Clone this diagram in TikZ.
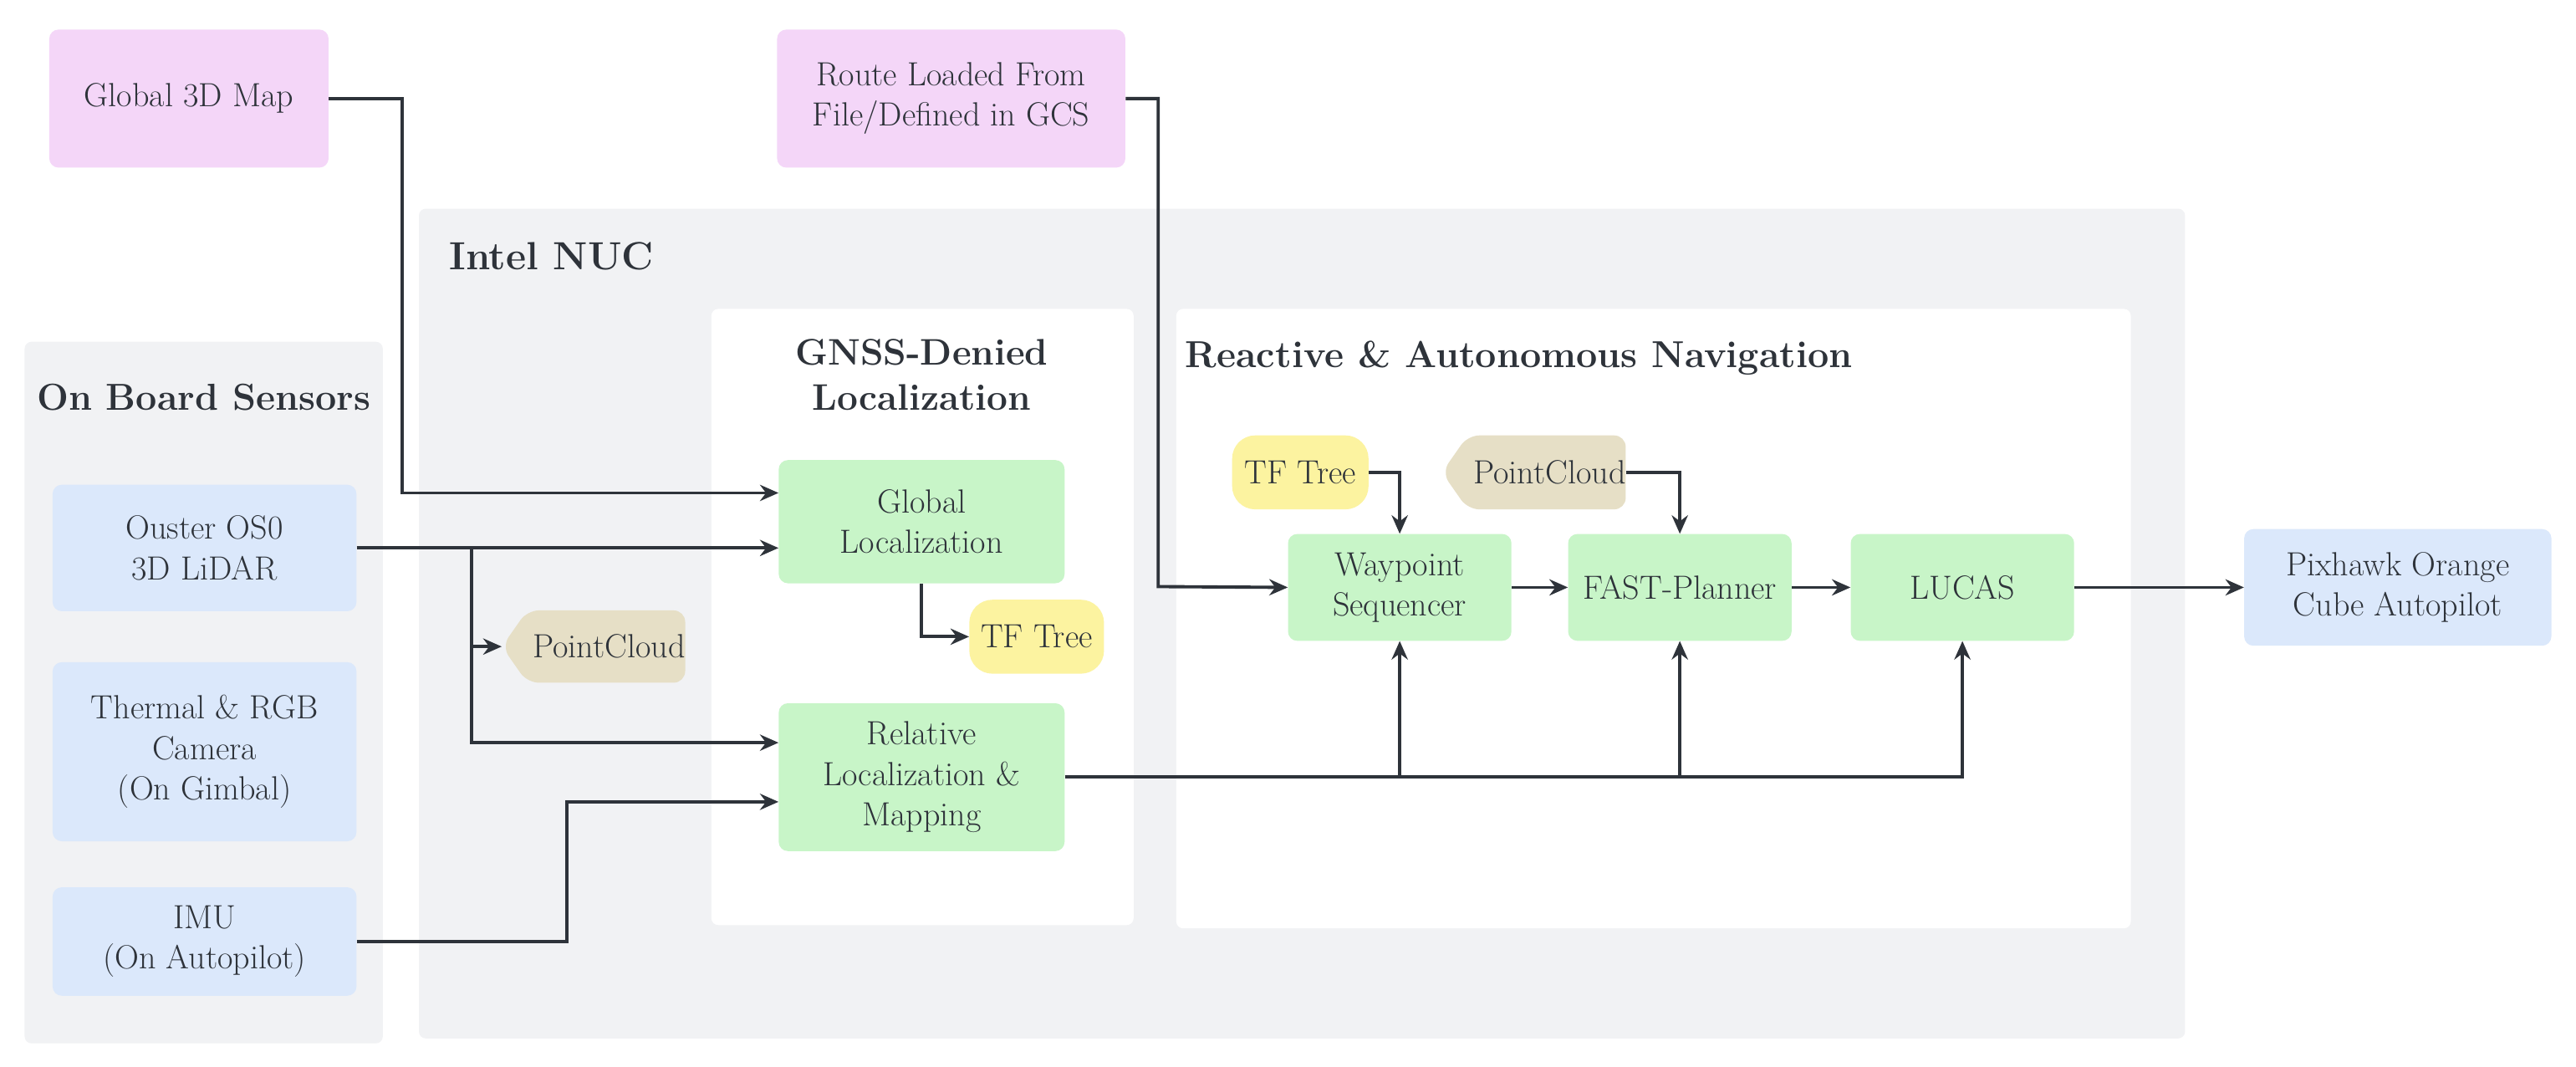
\documentclass[tikz,border=0pt]{standalone}
\usetikzlibrary{arrows.meta,shapes.symbols}
\definecolor{pinkb}{HTML}{F4D6F8}
\definecolor{blueb}{HTML}{DBE8FB}
\definecolor{greenb}{HTML}{C8F5C8}
\definecolor{yelb}{HTML}{FCF3A0}
\definecolor{tanb}{HTML}{E6DFC6}
\definecolor{panel}{HTML}{F1F2F4}
\definecolor{ink}{HTML}{2E333A}
\begin{document}
\begin{tikzpicture}[x=0.05cm,y=-0.05cm,
  txt/.style={font=\fontsize{29}{35}\selectfont,text=ink,align=center},
  box/.style={txt,fill=#1,rounded corners=8pt,inner sep=0pt},
  tag/.style={txt,fill=#1,rounded corners=10pt,inner sep=0pt},
  ttl/.style={font=\fontsize{32.5}{39}\selectfont\bfseries,text=ink,align=center},
  ln/.style={draw=ink,line width=2.8pt,-{Stealth[length=16pt,width=14pt]}}]
\useasboundingbox (0,0) rectangle (1568,649);
\fill[white] (0,0) rectangle (1568,649);
% panels
\fill[panel,rounded corners=6pt] (255,127) rectangle (1330,632);
\fill[panel,rounded corners=6pt] (15,208) rectangle (233,635);
\fill[white,rounded corners=6pt] (433,188) rectangle (690,563);
\fill[white,rounded corners=6pt] (716,188) rectangle (1297,565);
\node[ttl,font=\fontsize{34}{40}\selectfont\bfseries,anchor=west] (nuc) at (271,156) {Intel NUC};
\node[ttl] (obs) at (124,242) {On Board Sensors};
\node[ttl,font=\fontsize{32}{39}\selectfont\bfseries] (gnss) at (561,228) {GNSS-Denied\\Localization};
\node[ttl,anchor=west] (rea) at (719,218) {Reactive \& Autonomous Navigation};
% boxes
\node[box=pinkb,minimum width=8.5cm,minimum height=4.2cm] (map) at (115,60) {Global 3D Map};
\node[box=pinkb,minimum width=10.6cm,minimum height=4.2cm] (route) at (579,60) {Route Loaded From\\File/Defined in GCS};
\node[box=blueb,minimum width=9.25cm,minimum height=3.85cm] (ouster) at (124.5,333.5) {Ouster OS0\\3D LiDAR};
\node[box=blueb,minimum width=9.25cm,minimum height=5.45cm] (cam) at (124.5,457.5) {Thermal \& RGB\\Camera\\(On Gimbal)};
\node[box=blueb,minimum width=9.25cm,minimum height=3.3cm] (imu) at (124.5,573) {IMU\\(On Autopilot)};
\node[box=greenb,minimum width=8.7cm,minimum height=3.75cm] (gl) at (561,317.5) {Global\\Localization};
\node[box=greenb,minimum width=8.7cm,minimum height=4.5cm] (rl) at (561,473) {Relative\\Localization \&\\Mapping};
\node[box=greenb,minimum width=6.8cm,minimum height=3.25cm] (wp) at (852,357.5) {Waypoint\\Sequencer};
\node[box=greenb,minimum width=6.8cm,minimum height=3.25cm] (fp) at (1022.5,357.5) {FAST-Planner};
\node[box=greenb,minimum width=6.8cm,minimum height=3.25cm] (lu) at (1194.5,357.5) {LUCAS};
\node[box=blueb,minimum width=9.35cm,minimum height=3.55cm] (px) at (1459.5,357.5) {Pixhawk Orange\\Cube Autopilot};
\node[tag=yelb,rounded corners=20pt,minimum width=4.1cm,minimum height=2.25cm] (tf1) at (631,387.5) {TF Tree};
\node[tag=yelb,rounded corners=20pt,minimum width=4.15cm,minimum height=2.25cm] (tf2) at (791.5,287.5) {TF Tree};
\node[tag=tanb,shape=signal,signal to=west,signal pointer angle=110,minimum width=5.3cm,minimum height=2.2cm] (pc1) at (369,393.5) {\,PointCloud};
\node[tag=tanb,shape=signal,signal to=west,signal pointer angle=110,minimum width=5.35cm,minimum height=2.25cm] (pc2) at (941.5,287.5) {\,PointCloud};
% connectors
\coordinate (j1) at (287,333);
\draw[ln] (map.east) -- (245,60) -- (245,300) -- (gl.west |- 0,300);
\draw[ln] (route.east) -- (705,60) -- (705,357) -- (wp.west);
\draw[ln] (ouster.east) -- (gl.west |- ouster.east);
\draw[ln] (j1) -- (287,452) -- (rl.west |- 0,452);
\draw[ln] (287,393.5) -- (pc1.west);
\draw[ln] (imu.east) -- (345,573) -- (345,488) -- (rl.west |- 0,488);
\draw[ln] (gl.south) -- (561,387.5) -- (tf1.west);
\draw[ln] (rl.east) -- (1194.5,473) -- (lu.south);
\draw[ln] (852,473) -- (wp.south);
\draw[ln] (1022.5,473) -- (fp.south);
\draw[ln] (tf2.east) -- (852,287.5) -- (wp.north);
\draw[ln] (pc2.east) -- (1022.5,287.5) -- (fp.north);
\draw[ln] (wp.east) -- (fp.west);
\draw[ln] (fp.east) -- (lu.west);
\draw[ln] (lu.east) -- (px.west);
\end{tikzpicture}
\end{document}
